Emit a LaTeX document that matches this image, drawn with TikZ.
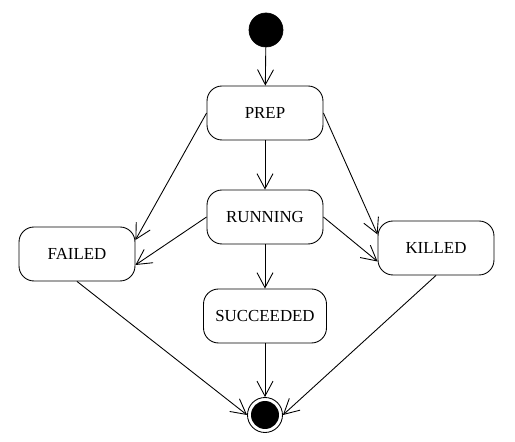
\documentclass[tikz,border=0pt]{standalone}
\usepackage{fontspec}
\setmainfont{Liberation Serif}
\usetikzlibrary{arrows.meta}

\begin{document}
\begin{tikzpicture}[x=0.02cm,y=-0.02cm]
\tikzset{
  statebox/.style={rectangle,draw,rounded corners=0.3cm,line width=0.5pt,minimum width=2.32cm,minimum height=1.08cm,font=\fontsize{9.6}{12}\selectfont},
  initstate/.style={circle,fill=black,draw,minimum size=0.68cm,inner sep=0pt},
  finalstate/.style={circle,draw,line width=0.5pt,minimum size=0.7cm,inner sep=0pt,
    path picture={\fill[black] (path picture bounding box.center) circle (0.28cm);}},
  transition/.style={-{Straight Barb[length=3mm,width=3.2mm]},line width=0.5pt}
}
\useasboundingbox (0,0) rectangle (515,442);
\node[initstate] (s_init) at (266,30) {};
\node[statebox] (s_prep) at (265,113) {PREP};
\node[statebox] (s_running) at (265,217) {RUNNING};
\node[statebox] (s_failed) at (77,254) {FAILED};
\node[statebox] (s_killed) at (436,248) {KILLED};
\node[statebox,minimum width=2.46cm] (s_succeeded) at (265,316) {SUCCEEDED};
\node[finalstate] (s_final) at (265,415) {};
\draw[transition] (s_init) -- (s_prep);
\draw[transition] (s_prep) -- (s_running);
\draw[transition] (s_prep.west) -- ([yshift=0.28cm]s_failed.east);
\draw[transition] (s_prep.east) -- ([yshift=0.27cm]s_killed.west);
\draw[transition] (s_running.west) -- ([yshift=-0.22cm]s_failed.east);
\draw[transition] (s_running.east) -- ([yshift=-0.27cm]s_killed.west);
\draw[transition] (s_running) -- (s_succeeded);
\draw[transition] (s_succeeded) -- (s_final);
\draw[transition] (s_failed.south) -- (s_final.west);
\draw[transition] (s_killed.south) -- (s_final.east);
\end{tikzpicture}
\end{document}
